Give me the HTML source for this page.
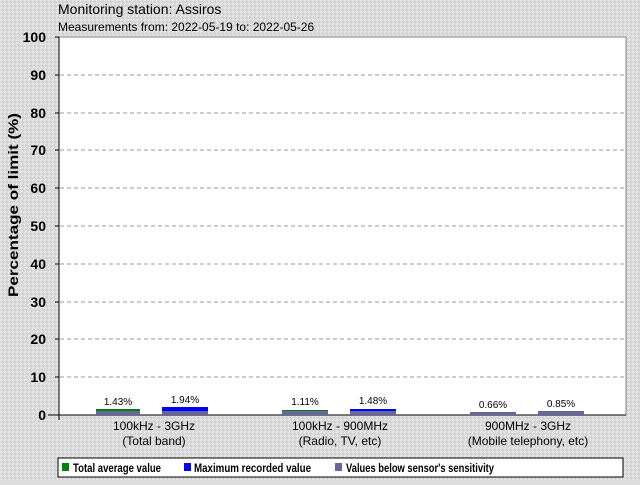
<!DOCTYPE html>
<html><head><style>
body{margin:0;width:640px;height:480px;background:#dcdcdc;font-family:"Liberation Sans",sans-serif;overflow:hidden}
</style></head><body>
<svg width="640" height="480" xmlns="http://www.w3.org/2000/svg" font-family="Liberation Sans, sans-serif">
<defs><pattern id="n" width="4" height="4" patternUnits="userSpaceOnUse"><rect width="4" height="4" fill="#dadada"/><rect x="0" y="0" width="1" height="1" fill="#eee"/><rect x="2" y="1" width="1" height="1" fill="#c8c8c8"/><rect x="1" y="3" width="1" height="1" fill="#f2f2f2"/><rect x="3" y="2" width="1" height="1" fill="#cfcfcf"/></pattern></defs>
<rect width="640" height="480" fill="url(#n)"/>
<text x="58" y="14" font-size="14">Monitoring station: Assiros</text>
<text x="58" y="31" font-size="12">Measurements from: 2022-05-19 to: 2022-05-26</text>
<rect x="59" y="37" width="567" height="378" fill="#fff" stroke="#888"/>
<g stroke="#999" stroke-dasharray="4,3">
<line x1="60" x2="626" y1="75" y2="75"/><line x1="60" x2="626" y1="113" y2="113"/><line x1="60" x2="626" y1="150" y2="150"/><line x1="60" x2="626" y1="188" y2="188"/><line x1="60" x2="626" y1="226" y2="226"/><line x1="60" x2="626" y1="264" y2="264"/><line x1="60" x2="626" y1="302" y2="302"/><line x1="60" x2="626" y1="339" y2="339"/><line x1="60" x2="626" y1="377" y2="377"/>
</g>
<line x1="59" y1="37" x2="59" y2="420" stroke="#000"/>
<line x1="48" y1="415" x2="626" y2="415" stroke="#000"/>
<g font-size="14" font-weight="bold" text-anchor="end">
<text x="46" y="42">100</text><text x="46" y="80">90</text><text x="46" y="118">80</text><text x="46" y="155">70</text><text x="46" y="193">60</text><text x="46" y="231">50</text><text x="46" y="269">40</text><text x="46" y="307">30</text><text x="46" y="344">20</text><text x="46" y="382">10</text><text x="46" y="420">0</text>
</g>
<g stroke="#000"><line x1="55" x2="59" y1="37" y2="37"/><line x1="55" x2="59" y1="75" y2="75"/><line x1="55" x2="59" y1="113" y2="113"/><line x1="55" x2="59" y1="150" y2="150"/><line x1="55" x2="59" y1="188" y2="188"/><line x1="55" x2="59" y1="226" y2="226"/><line x1="55" x2="59" y1="264" y2="264"/><line x1="55" x2="59" y1="302" y2="302"/><line x1="55" x2="59" y1="339" y2="339"/><line x1="55" x2="59" y1="377" y2="377"/></g>
<text transform="translate(18,205) rotate(-90)" font-size="14" font-weight="bold" text-anchor="middle" textLength="184" lengthAdjust="spacingAndGlyphs">Percentage of limit (%)</text>
<rect x="96" y="409" width="44" height="6" fill="#008000"/><rect x="96" y="411" width="44" height="4" fill="#6666a0"/>
<rect x="162" y="407" width="46" height="8" fill="#0000ff"/><rect x="162" y="411" width="46" height="4" fill="#6666a0"/>
<rect x="282" y="410" width="46" height="5" fill="#008000"/><rect x="282" y="411" width="46" height="4" fill="#6666a0"/>
<rect x="350" y="409" width="46" height="6" fill="#0000ff"/><rect x="350" y="411" width="46" height="4" fill="#6666a0"/>
<rect x="470" y="412" width="46" height="3" fill="#6666a0"/>
<rect x="538" y="411" width="46" height="4" fill="#6666a0"/>
<g font-size="10" text-anchor="middle">
<text x="118" y="405">1.43%</text><text x="185" y="403">1.94%</text><text x="305" y="405">1.11%</text><text x="373" y="404">1.48%</text><text x="493" y="408">0.66%</text><text x="561" y="407">0.85%</text>
</g>
<g font-size="12" text-anchor="middle">
<text x="154" y="430">100kHz - 3GHz</text><text x="154" y="445">(Total band)</text>
<text x="340" y="430">100kHz - 900MHz</text><text x="340" y="445">(Radio, TV, etc)</text>
<text x="528" y="430">900MHz - 3GHz</text><text x="528" y="445">(Mobile telephony, etc)</text>
</g>
<rect x="58" y="458" width="565" height="19" fill="#fff" stroke="#000"/>
<g font-size="12" font-weight="bold">
<rect x="62" y="463" width="7" height="8" fill="#008000"/><text x="73" y="472" textLength="88" lengthAdjust="spacingAndGlyphs">Total average value</text>
<rect x="184" y="463" width="7" height="8" fill="#0000ff"/><text x="194" y="472" textLength="117" lengthAdjust="spacingAndGlyphs">Maximum recorded value</text>
<rect x="335" y="463" width="7" height="8" fill="#6666a0"/><text x="346" y="472" textLength="148" lengthAdjust="spacingAndGlyphs">Values below sensor's sensitivity</text>
</g>
</svg>
</body></html>
